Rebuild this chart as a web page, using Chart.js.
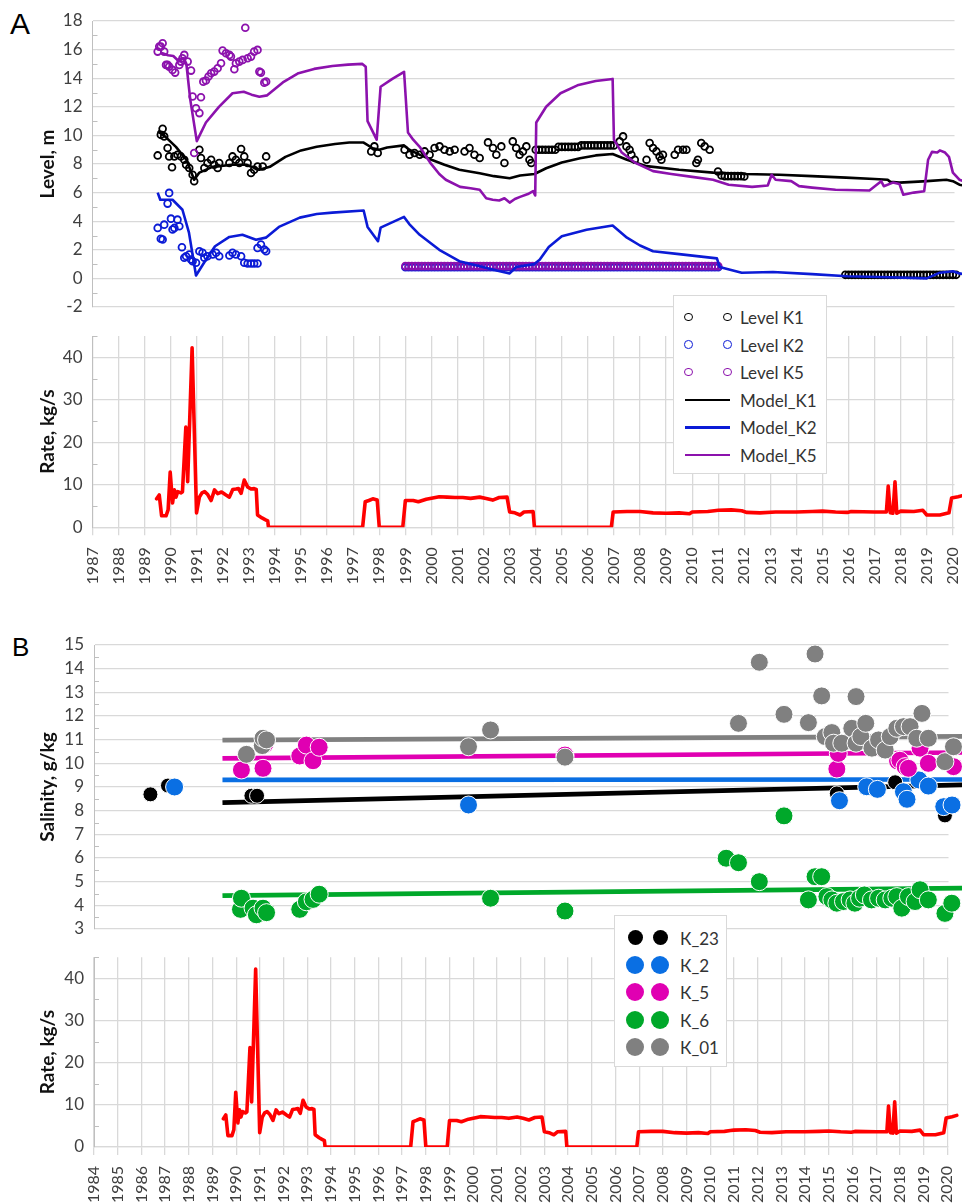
<!DOCTYPE html>
<html>
<head>
<meta charset="utf-8">
<title>Levels, rates and salinity</title>
<script src="https://cdn.jsdelivr.net/npm/chart.js@4.4.0/dist/chart.umd.min.js"></script>
<style>
  html, body { margin: 0; padding: 0; background: #fff; width: 962px; height: 1203px; overflow: hidden; }
  canvas { position: absolute; left: 0; }
  .letter { position: absolute; font-family: "Liberation Sans", Arial, sans-serif; color: #000; line-height: 1; }
  .legend { position: absolute; background: #fff; border: 1px solid #d9d9d9; box-sizing: border-box; z-index: 10; }
  .legend span { position: absolute; transform: translateY(-50%); font-family: Lato, "Noto Sans", sans-serif; font-size: 17px; line-height: 1; color: #333; white-space: nowrap; }
  .legend i { position: absolute; display: block; box-sizing: border-box; border-radius: 50%; }
  .legend b { position: absolute; display: block; }
</style>
</head>
<body>
<div class="letter" style="left:10px;top:9px;font-size:30px;">A</div>
<div class="letter" style="left:12px;top:634px;font-size:26px;">B</div>
<canvas id="levelA" width="962" height="320" style="top:0;z-index:2"></canvas>
<canvas id="rateA" width="962" height="280" style="top:320px;z-index:1"></canvas>
<canvas id="salB" width="962" height="310" style="top:630px;z-index:2"></canvas>
<canvas id="rateB" width="962" height="263" style="top:940px;z-index:1"></canvas>
<div id="legendA" class="legend" style="left:673px;top:295px;width:154px;height:179px;"></div>
<div id="legendB" class="legend" style="left:614px;top:915px;width:113px;height:152px;"></div>

<script>
// ---------- axis labels ----------
const yearLabelsA = ['1987','1988','1989','1990','1991','1992','1993','1994','1995','1996','1997','1998','1999','2000','2001','2002','2003','2004','2005','2006','2007','2008','2009','2010','2011','2012','2013','2014','2015','2016','2017','2018','2019','2020'];
const yearLabelsB = ['1984','1985','1986','1987','1988','1989','1990','1991','1992','1993','1994','1995','1996','1997','1998','1999','2000','2001','2002','2003','2004','2005','2006','2007','2008','2009','2010','2011','2012','2013','2014','2015','2016','2017','2018','2019','2020'];

// ---------- panel A: observed levels [year, m] ----------
const levelK1 = [
  [1989.5,8.6],[1989.69,10.46],[1989.62,10.04],[1989.75,9.93],[1989.88,9.12],[1990.05,7.77],[1989.94,8.53],[1990.14,8.53],[1990.26,8.65],[1990.39,8.53],
  [1990.52,8.3],[1990.59,7.95],[1990.71,7.72],[1990.84,7.25],[1990.9,6.79],[1991.1,9.0],[1991.16,8.42],[1991.29,7.72],[1991.41,8.07],[1991.55,8.3],
  [1991.67,7.95],[1991.8,7.72],[1991.86,8.07],[1992.25,8.07],[1992.37,8.53],[1992.5,8.3],[1992.63,8.07],[1992.7,9.05],[1992.82,8.53],[1992.95,8.07],
  [1993.08,7.37],[1993.2,7.6],[1993.33,7.83],[1993.53,7.83],[1993.66,8.53],
  [1997.69,8.88],[1997.81,9.23],[1997.94,8.77],
  [1998.97,9.0],[1999.16,8.65],[1999.35,8.77],[1999.55,8.65],[1999.74,8.88],[1999.93,8.65],[2000.12,9.12],[2000.31,9.23],[2000.5,9.0],[2000.7,8.88],
  [2000.89,9.0],[2001.27,8.88],[2001.46,9.12],[2001.65,8.65],[2001.85,8.42],
  [2002.17,9.51],[2002.36,9.12],[2002.49,8.65],[2002.68,9.23],[2002.8,8.07],[2003.12,9.58],[2003.25,9.12],[2003.38,8.65],[2003.51,8.88],[2003.64,9.23],
  [2003.76,8.3],[2003.83,8.07],
  [2004.0,9.0],[2004.125,9.0],[2004.25,9.0],[2004.375,9.0],[2004.5,9.0],[2004.625,9.0],[2004.75,9.0],
  [2004.875,9.2],[2005.0,9.2],[2005.125,9.2],[2005.25,9.2],[2005.375,9.2],[2005.5,9.2],[2005.625,9.2],
  [2005.75,9.3],[2005.875,9.3],[2006.0,9.3],[2006.125,9.3],[2006.25,9.3],[2006.375,9.3],[2006.5,9.3],[2006.625,9.3],[2006.75,9.3],[2006.875,9.3],[2007.0,9.3],
  [2007.22,9.58],[2007.35,9.93],[2007.48,9.23],[2007.6,9.0],[2007.67,8.65],[2007.8,8.3],[2008.25,8.3],[2008.37,9.47],[2008.5,9.12],[2008.63,8.88],
  [2008.75,8.53],[2008.82,8.3],[2008.88,8.65],[2009.33,8.65],[2009.46,9.0],[2009.65,9.0],[2009.78,9.0],[2010.16,8.07],[2010.22,8.3],[2010.35,9.47],
  [2010.48,9.23],[2010.67,9.0],
  [2010.99,7.48],[2011.125,7.2],[2011.25,7.15],[2011.375,7.15],[2011.5,7.15],[2011.625,7.15],[2011.75,7.15],[2011.875,7.15],[2012.0,7.13],
  [2015.875,0.25],[2016.0,0.25],[2016.125,0.25],[2016.25,0.25],[2016.375,0.25],[2016.5,0.25],[2016.625,0.25],[2016.75,0.25],[2016.875,0.25],
  [2017.0,0.25],[2017.125,0.25],[2017.25,0.25],[2017.375,0.25],[2017.5,0.25],[2017.625,0.25],[2017.75,0.25],[2017.875,0.25],
  [2018.0,0.25],[2018.125,0.25],[2018.25,0.25],[2018.375,0.25],[2018.5,0.25],[2018.625,0.25],[2018.75,0.25],[2018.875,0.25],
  [2019.0,0.25],[2019.125,0.25],[2019.25,0.25],[2019.375,0.25],[2019.5,0.25],[2019.625,0.25],[2019.75,0.25],[2019.875,0.25],
  [2020.0,0.25],[2020.125,0.25]
];
const levelK2 = [
  [1989.5,3.53],[1989.62,2.77],[1989.69,2.72],[1989.75,3.76],[1989.94,5.98],[1989.88,5.23],[1990.01,4.18],[1990.07,3.42],[1990.14,3.53],[1990.26,4.11],
  [1990.33,3.65],[1990.43,2.18],[1990.52,1.44],[1990.59,1.55],[1990.71,1.67],[1990.78,1.32],[1990.84,1.2],[1990.97,1.09],[1991.1,1.9],[1991.22,1.79],
  [1991.29,1.44],[1991.41,1.55],[1991.61,1.67],[1991.74,1.79],[1991.86,1.55],[1992.25,1.6],[1992.37,1.79],[1992.5,1.67],[1992.7,1.55],[1992.82,1.09],
  [1992.95,1.04],[1993.08,1.04],[1993.2,1.04],[1993.33,1.04],[1993.33,2.13],[1993.46,2.37],[1993.59,2.02],[1993.66,1.9],
  [1999.0,0.78],[1999.125,0.78],[1999.25,0.78],[1999.375,0.78],[1999.5,0.78],[1999.625,0.78],[1999.75,0.78],[1999.875,0.78],
  [2000.0,0.78],[2000.125,0.78],[2000.25,0.78],[2000.375,0.78],[2000.5,0.78],[2000.625,0.78],[2000.75,0.78],[2000.875,0.78],
  [2001.0,0.78],[2001.125,0.78],[2001.25,0.78],[2001.375,0.78],[2001.5,0.78],[2001.625,0.78],[2001.75,0.78],[2001.875,0.78],
  [2002.0,0.78],[2002.125,0.78],[2002.25,0.78],[2002.375,0.78],[2002.5,0.78],[2002.625,0.78],[2002.75,0.78],[2002.875,0.78],
  [2003.0,0.78],[2003.125,0.78],[2003.25,0.78],[2003.375,0.78],[2003.5,0.78],[2003.625,0.78],[2003.75,0.78],[2003.875,0.78],
  [2004.0,0.78],[2004.125,0.78],[2004.25,0.78],[2004.375,0.78],[2004.5,0.78],[2004.625,0.78],[2004.75,0.78],[2004.875,0.78],
  [2005.0,0.78],[2005.125,0.78],[2005.25,0.78],[2005.375,0.78],[2005.5,0.78],[2005.625,0.78],[2005.75,0.78],[2005.875,0.78],
  [2006.0,0.78],[2006.125,0.78],[2006.25,0.78],[2006.375,0.78],[2006.5,0.78],[2006.625,0.78],[2006.75,0.78],[2006.875,0.78],
  [2007.0,0.78],[2007.125,0.78],[2007.25,0.78],[2007.375,0.78],[2007.5,0.78],[2007.625,0.78],[2007.75,0.78],[2007.875,0.78],
  [2008.0,0.78],[2008.125,0.78],[2008.25,0.78],[2008.375,0.78],[2008.5,0.78],[2008.625,0.78],[2008.75,0.78],[2008.875,0.78],
  [2009.0,0.78],[2009.125,0.78],[2009.25,0.78],[2009.375,0.78],[2009.5,0.78],[2009.625,0.78],[2009.75,0.78],[2009.875,0.78],
  [2010.0,0.78],[2010.125,0.78],[2010.25,0.78],[2010.375,0.78],[2010.5,0.78],[2010.625,0.78],[2010.75,0.78],[2010.875,0.78],
  [2011.0,0.78]
];
const levelK5 = [
  [1989.5,15.86],[1989.56,16.21],[1989.69,16.44],[1989.62,16.21],[1989.75,15.86],[1989.82,14.93],[1989.88,14.93],[1989.94,14.81],[1990.07,14.58],[1990.17,14.39],
  [1990.33,14.93],[1990.39,15.16],[1990.45,15.4],[1990.52,15.63],[1990.65,15.16],[1990.78,14.53],[1990.84,12.72],[1990.9,8.77],[1990.97,11.9],[1991.1,11.56],
  [1991.16,12.67],[1991.25,13.76],[1991.35,13.84],[1991.45,14.12],[1991.55,14.35],[1991.67,14.46],[1991.8,14.7],[1991.93,15.05],[1991.99,15.93],[1992.12,15.74],
  [1992.25,15.63],[1992.31,15.51],[1992.44,14.63],[1992.5,15.05],[1992.63,15.16],[1992.76,15.28],[1992.86,17.53],[1992.95,15.4],[1993.08,15.51],[1993.2,15.86],
  [1993.33,15.98],[1993.4,14.46],[1993.46,14.39],[1993.59,13.69],[1993.66,13.76],
  [1999.0,0.86],[1999.125,0.86],[1999.25,0.86],[1999.375,0.86],[1999.5,0.86],[1999.625,0.86],[1999.75,0.86],[1999.875,0.86],
  [2000.0,0.86],[2000.125,0.86],[2000.25,0.86],[2000.375,0.86],[2000.5,0.86],[2000.625,0.86],[2000.75,0.86],[2000.875,0.86],
  [2001.0,0.86],[2001.125,0.86],[2001.25,0.86],[2001.375,0.86],[2001.5,0.86],[2001.625,0.86],[2001.75,0.86],[2001.875,0.86],
  [2002.0,0.86],[2002.125,0.86],[2002.25,0.86],[2002.375,0.86],[2002.5,0.86],[2002.625,0.86],[2002.75,0.86],[2002.875,0.86],
  [2003.0,0.86],[2003.125,0.86],[2003.25,0.86],[2003.375,0.86],[2003.5,0.86],[2003.625,0.86],[2003.75,0.86],[2003.875,0.86],
  [2004.0,0.86],[2004.125,0.86],[2004.25,0.86],[2004.375,0.86],[2004.5,0.86],[2004.625,0.86],[2004.75,0.86],[2004.875,0.86],
  [2005.0,0.86],[2005.125,0.86],[2005.25,0.86],[2005.375,0.86],[2005.5,0.86],[2005.625,0.86],[2005.75,0.86],[2005.875,0.86],
  [2006.0,0.86],[2006.125,0.86],[2006.25,0.86],[2006.375,0.86],[2006.5,0.86],[2006.625,0.86],[2006.75,0.86],[2006.875,0.86],
  [2007.0,0.86],[2007.125,0.86],[2007.25,0.86],[2007.375,0.86],[2007.5,0.86],[2007.625,0.86],[2007.75,0.86],[2007.875,0.86],
  [2008.0,0.86],[2008.125,0.86],[2008.25,0.86],[2008.375,0.86],[2008.5,0.86],[2008.625,0.86],[2008.75,0.86],[2008.875,0.86],
  [2009.0,0.86],[2009.125,0.86],[2009.25,0.86],[2009.375,0.86],[2009.5,0.86],[2009.625,0.86],[2009.75,0.86],[2009.875,0.86],
  [2010.0,0.86],[2010.125,0.86],[2010.25,0.86],[2010.375,0.86],[2010.5,0.86],[2010.625,0.86],[2010.75,0.86],[2010.875,0.86],
  [2011.0,0.86]
];

// ---------- panel A: modelled levels [year, m] ----------
const modelK1 = [
  [1989.5,10.3],[1989.8,9.9],[1990.2,9.2],[1990.6,8.3],[1990.9,6.9],[1991.1,7.4],[1991.6,7.8],[1992.37,7.95],[1992.9,7.95],[1993.4,7.6],
  [1993.8,7.8],[1994.4,8.5],[1995.0,8.95],[1995.6,9.2],[1996.3,9.4],[1996.85,9.5],[1997.4,9.5],[1997.75,9.1],[1998.0,9.0],[1998.3,9.15],
  [1998.95,9.3],[1999.15,9.0],[1999.6,8.6],[2000.0,8.3],[2000.5,7.95],[2001.07,7.6],[2001.85,7.35],[2002.4,7.15],[2003.0,7.0],[2003.4,7.2],
  [2003.95,7.3],[2004.4,7.7],[2005.0,8.1],[2005.7,8.4],[2006.3,8.6],[2006.95,8.7],[2007.5,8.3],[2008.25,7.85],[2009.5,7.6],[2010.8,7.4],
  [2012.0,7.3],[2013.35,7.25],[2014.6,7.15],[2015.9,7.05],[2017.0,6.95],[2017.5,6.9],[2017.6,6.75],[2017.95,6.7],[2018.5,6.75],[2019.0,6.8],
  [2019.75,6.9],[2020.0,6.8],[2020.25,6.55],[2020.4,6.5]
];
const modelK2 = [
  [1989.5,6.0],[1989.6,5.5],[1990.07,5.5],[1990.45,4.8],[1990.7,3.2],[1990.97,0.2],[1991.35,1.3],[1991.7,2.25],[1992.25,2.9],[1992.75,3.05],
  [1993.27,2.7],[1993.65,2.85],[1994.15,3.6],[1994.95,4.25],[1995.6,4.5],[1996.2,4.6],[1997.4,4.75],[1997.55,3.6],[1997.95,2.6],[1998.05,3.55],
  [1998.95,4.3],[1999.15,3.8],[1999.55,3.05],[2000.3,2.0],[2001.07,1.2],[2001.85,0.85],[2002.5,0.55],[2003.0,0.35],[2003.25,0.8],[2003.95,1.0],
  [2004.15,1.3],[2004.5,2.2],[2005.0,2.95],[2005.95,3.4],[2006.95,3.7],[2007.5,2.85],[2008.0,2.3],[2008.5,1.9],[2009.5,1.7],[2010.95,1.4],
  [2011.05,0.8],[2011.9,0.4],[2013.1,0.45],[2014.6,0.3],[2015.95,0.15],[2017.2,0.1],[2019.0,0.0],[2019.5,0.4],[2020.0,0.5],[2020.25,0.35],
  [2020.4,0.3]
];
const modelK5 = [
  [1989.6,15.8],[1989.9,15.6],[1990.1,15.55],[1990.3,15.2],[1990.5,15.4],[1990.6,15.0],[1990.75,12.5],[1991.0,9.6],[1991.35,10.9],[1991.85,12.0],
  [1992.37,12.95],[1992.8,13.05],[1993.1,12.85],[1993.4,12.7],[1993.7,12.8],[1994.3,13.7],[1994.9,14.35],[1995.5,14.65],[1996.2,14.85],[1996.8,14.95],
  [1997.35,15.0],[1997.48,14.8],[1997.55,11.0],[1997.9,9.7],[1998.05,13.4],[1998.5,13.95],[1998.95,14.45],[1999.1,10.2],[1999.3,9.7],[1999.55,9.2],
  [1999.95,8.1],[2000.3,7.3],[2000.55,6.9],[2001.1,6.4],[2001.5,6.3],[2001.85,6.2],[2002.1,5.6],[2002.35,5.5],[2002.6,5.45],[2002.8,5.6],
  [2003.0,5.3],[2003.2,5.55],[2003.4,5.7],[2003.7,5.9],[2003.9,6.1],[2003.98,5.8],[2004.02,10.9],[2004.4,12.0],[2004.95,12.95],[2005.6,13.5],
  [2006.3,13.8],[2006.95,13.95],[2007.0,9.7],[2007.3,8.8],[2007.8,8.1],[2008.5,7.5],[2009.2,7.3],[2010.0,7.1],[2010.8,6.9],[2011.4,6.55],
  [2012.3,6.4],[2012.9,6.5],[2013.05,7.25],[2013.2,6.9],[2013.8,6.8],[2014.1,6.45],[2014.6,6.35],[2015.5,6.2],[2016.8,6.15],[2017.25,6.8],
  [2017.35,6.45],[2017.7,6.7],[2017.95,6.6],[2018.1,5.85],[2018.5,6.0],[2018.9,6.1],[2019.05,8.3],[2019.2,8.85],[2019.4,8.8],[2019.5,8.95],
  [2019.7,8.8],[2019.85,8.5],[2020.0,7.4],[2020.25,6.9],[2020.4,6.8]
];

// ---------- production rate [year, kg/s] (both panels) ----------
const rate = [
  [1989.46,6.7],[1989.56,7.6],[1989.65,2.7],[1989.82,2.7],[1989.9,4.1],[1989.98,13.0],[1990.07,5.7],[1990.14,8.8],[1990.2,7.1],[1990.27,8.4],
  [1990.39,8.1],[1990.45,8.3],[1990.58,23.6],[1990.65,10.7],[1990.82,42.2],[1990.99,3.4],[1991.1,7.1],[1991.2,8.1],[1991.3,8.4],[1991.42,7.7],
  [1991.55,6.3],[1991.68,8.8],[1991.8,7.9],[1991.95,8.3],[1992.12,7.6],[1992.25,7.1],[1992.38,8.9],[1992.5,9.0],[1992.6,9.1],[1992.7,8.0],
  [1992.82,11.1],[1992.95,9.5],[1993.08,9.0],[1993.2,9.1],[1993.28,8.9],[1993.33,2.9],[1993.5,2.2],[1993.62,1.8],[1993.72,1.5],[1993.75,0],
  [1997.36,0],[1997.46,6.0],[1997.6,6.3],[1997.75,6.7],[1997.92,6.4],[1998.0,0],[1998.9,0],[1999.0,6.3],[1999.3,6.3],[1999.5,6.0],
  [1999.8,6.6],[2000.3,7.2],[2000.6,7.1],[2000.9,7.0],[2001.2,7.0],[2001.5,6.8],[2001.85,7.1],[2002.1,6.8],[2002.35,6.4],[2002.6,7.0],
  [2002.9,7.1],[2003.0,3.6],[2003.2,3.4],[2003.4,2.9],[2003.55,3.6],[2003.9,3.7],[2003.95,0],[2006.9,0],[2006.97,3.6],[2007.5,3.7],
  [2008.0,3.7],[2008.5,3.4],[2009.0,3.3],[2009.5,3.4],[2009.9,3.2],[2010.0,3.6],[2010.6,3.7],[2010.85,3.9],[2011.0,4.0],[2011.5,4.1],
  [2011.9,3.9],[2012.1,3.5],[2012.6,3.4],[2013.2,3.6],[2014.0,3.6],[2014.6,3.7],[2015.0,3.8],[2015.5,3.6],[2015.95,3.5],[2016.1,3.7],
  [2017.0,3.6],[2017.45,3.6],[2017.52,9.7],[2017.6,3.4],[2017.7,3.3],[2017.78,10.7],[2017.85,3.3],[2018.0,3.8],[2018.5,3.7],[2018.85,4.0],
  [2019.0,2.9],[2019.5,2.9],[2019.85,3.4],[2019.95,6.9],[2020.2,7.2],[2020.4,7.5]
];

// ---------- panel B: salinity samples [year, g/kg] ----------
const salK23 = [[1986.38,8.69],[1987.12,9.06],[1990.64,8.63],[1990.88,8.63],[2015.34,8.73],[2017.8,9.2],[2019.9,7.8]];
const salK2 = [[1987.4,9.0],[1999.8,8.24],[2015.45,8.42],[2016.6,9.01],[2017.05,8.9],[2018.15,8.8],[2018.3,8.48],[2018.8,9.3],[2019.2,9.04],[2019.85,8.17],[2020.2,8.24]];
const salK5 = [[1990.22,9.72],[1991.13,9.79],[1991.2,10.8],[1992.68,10.31],[1992.96,10.77],[1993.24,10.11],[1993.5,10.68],[2003.87,10.35],[2015.34,9.76],[2015.4,10.42],
  [2017.9,10.1],[2018.0,10.13],[2018.22,9.86],[2018.36,9.79],[2018.85,10.64],[2019.2,10.0],[2020.26,9.86]];
const salK6 = [[1990.18,3.83],[1990.22,4.3],[1990.71,3.88],[1990.85,3.6],[1991.13,3.88],[1991.28,3.69],[1992.68,3.83],[1992.96,4.15],[1993.24,4.25],[1993.5,4.47],
  [2000.73,4.3],[2003.87,3.76],[2010.67,5.99],[2011.19,5.8],[2012.07,5.0],[2013.11,7.78],[2014.14,4.23],[2014.42,5.21],[2014.7,5.21],[2014.92,4.37],
  [2015.13,4.23],[2015.34,4.09],[2015.62,4.16],[2015.9,4.23],[2016.1,4.09],[2016.3,4.3],[2016.5,4.44],[2016.8,4.23],[2017.1,4.3],[2017.38,4.23],
  [2017.66,4.3],[2017.87,4.37],[2018.08,3.88],[2018.36,4.37],[2018.64,4.16],[2018.85,4.66],[2019.2,4.23],[2019.9,3.66],[2020.19,4.09]];
const salK01 = [[1990.43,10.38],[1991.1,10.75],[1991.13,11.06],[1991.28,10.99],[1999.8,10.7],[2000.73,11.41],[2003.87,10.26],[2011.19,11.69],[2012.07,14.27],[2013.11,12.07],
  [2014.14,11.72],[2014.42,14.62],[2014.7,12.85],[2014.85,11.13],[2015.13,11.3],[2015.2,10.85],[2015.55,10.85],[2015.97,11.48],[2016.15,12.82],[2016.15,10.85],
  [2016.35,11.13],[2016.56,11.69],[2016.82,10.64],[2017.1,10.99],[2017.38,10.56],[2017.59,11.13],[2017.87,11.48],[2018.15,11.55],[2018.43,11.55],[2018.71,11.06],
  [2018.93,12.11],[2019.2,11.06],[2019.9,10.07],[2020.26,10.7]];

// ---------- panel B: linear trends [year, g/kg] ----------
const trendK23 = [[1989.42,8.34],[2020.7,9.09]];
const trendK2  = [[1989.42,9.3],[2020.7,9.32]];
const trendK5  = [[1989.42,10.21],[2020.7,10.46]];
const trendK6  = [[1989.42,4.41],[2020.7,4.73]];
const trendK01 = [[1989.42,10.98],[2020.7,11.14]];

// ---------- styling ----------
const FONT = 'Lato, "Noto Sans", sans-serif';
const GRID = '#d9d9d9';
const AXIS = '#bfbfbf';
const TICK_COLOR = '#404040';
const C = { k1: '#000000', k2: '#0b1bd6', k5: '#8c12ad', red: '#ff0000',
            s23: '#000000', s2: '#0a6fe3', s5: '#e000b2', s6: '#00a82a', s01: '#808080' };

const pts = arr => arr.map(p => ({ x: p[0], y: p[1] }));
const yearTicksA = yearLabelsA.map(Number);
const yearTicksB = yearLabelsB.map(Number);

// short inner tick marks on the value axis between the labelled ticks
const minorTicks = {
  id: 'minorTicks',
  afterDraw(chart, args, opts) {
    if (!opts || !opts.step) return;
    const y = chart.scales.y, ctx = chart.ctx, left = chart.chartArea.left;
    ctx.save();
    ctx.strokeStyle = AXIS;
    ctx.lineWidth = 1;
    for (let v = y.min + opts.offset; v <= y.max + 1e-9; v += opts.step) {
      const py = Math.round(y.getPixelForValue(v)) + 0.5;
      ctx.beginPath(); ctx.moveTo(left, py); ctx.lineTo(left + 5, py); ctx.stroke();
    }
    ctx.restore();
  }
};

// the grid stops at the last labelled year; the series run on to the edge
const gridStop = {
  id: 'gridStop',
  beforeDatasetsDraw(chart, args, opts) {
    if (!opts || opts.at === undefined) return;
    const x = chart.scales.x, a = chart.chartArea, ctx = chart.ctx;
    const px = Math.round(x.getPixelForValue(opts.at)) + 1.5;
    ctx.save();
    ctx.fillStyle = '#ffffff';
    ctx.fillRect(px, a.top - 2, a.right - px + 2, a.bottom - a.top + 4);
    ctx.restore();
  }
};

function valueAxis(min, max, step, title, plotLeft) {
  return {
    min, max,
    ticks: { stepSize: step, includeBounds: false, padding: 10, color: TICK_COLOR, font: { family: FONT, size: 17 } },
    grid: { color: GRID, lineWidth: 1.3, drawTicks: false },
    border: { display: true, color: AXIS, width: 1 },
    title: { display: true, text: title, color: '#111', padding: 0, font: { family: FONT, size: 19, weight: 'bold' } },
    afterFit: s => { s.width = plotLeft - 36; s.paddingTop = 0; s.paddingBottom = 0; }
  };
}

function yearAxis(min, max, ticks, labels, pad, height) {
  return {
    type: 'linear', min, max,
    afterBuildTicks: s => { s.ticks = ticks.map(v => ({ value: v })); },
    ticks: { autoSkip: false, minRotation: 90, maxRotation: 90, padding: pad, color: TICK_COLOR,
             font: { family: FONT, size: 16 }, callback: v => labels[ticks.indexOf(v)] },
    grid: { color: GRID, lineWidth: 1.3, drawTicks: true, tickLength: 8 },
    border: { display: true, color: GRID, width: 1.3 },
    afterFit: s => { s.height = height; s.paddingLeft = 0; s.paddingRight = 0; }
  };
}

const base = {
  responsive: false, animation: false, devicePixelRatio: 1,
  plugins: { legend: { display: false }, tooltip: { enabled: false } }
};

// ---------- panel A: levels ----------
const levelSets = [
  { label: 'Level K1', kind: 'mark', data: pts(levelK1), order: 5, showLine: false, pointRadius: 3.4, pointBorderWidth: 1.8,
    pointBorderColor: C.k1, pointBackgroundColor: 'rgba(0,0,0,0)', borderColor: C.k1 },
  { label: 'Level K2', kind: 'mark', data: pts(levelK2), order: 4, showLine: false, pointRadius: 3.4, pointBorderWidth: 1.8,
    pointBorderColor: C.k2, pointBackgroundColor: 'rgba(0,0,0,0)', borderColor: C.k2 },
  { label: 'Level K5', kind: 'mark', data: pts(levelK5), order: 3, showLine: false, pointRadius: 3.4, pointBorderWidth: 1.8,
    pointBorderColor: C.k5, pointBackgroundColor: 'rgba(0,0,0,0)', borderColor: C.k5 },
  { label: 'Model_K1', kind: 'line', data: pts(modelK1), order: 2, showLine: true, pointRadius: 0, borderColor: C.k1, borderWidth: 2.6, borderJoinStyle: 'round' },
  { label: 'Model_K2', kind: 'line', data: pts(modelK2), order: 1, showLine: true, pointRadius: 0, borderColor: C.k2, borderWidth: 2.6, borderJoinStyle: 'round' },
  { label: 'Model_K5', kind: 'line', data: pts(modelK5), order: 0, showLine: true, pointRadius: 0, borderColor: C.k5, borderWidth: 2.6, borderJoinStyle: 'round' }
];

new Chart(document.getElementById('levelA'), {
  type: 'scatter',
  data: { datasets: levelSets },
  options: Object.assign({}, base, {
    layout: { autoPadding: false, padding: { left: 36, top: 21, right: 0, bottom: 13 } },
    plugins: Object.assign({}, base.plugins, { minorTicks: { offset: 1, step: 2 }, gridStop: { at: yearTicksA[yearTicksA.length - 1] } }),
    scales: {
      x: { type: 'linear', min: 1987, max: 2020.35, display: false },
      y: valueAxis(-2, 18, 2, 'Level, m', 92.5)
    }
  }),
  plugins: [minorTicks, gridStop]
});

// ---------- rate charts ----------
function rateChart(id, xAxis, lastYear, top, bottomPad, plotLeft) {
  return new Chart(document.getElementById(id), {
    type: 'scatter',
    data: { datasets: [{ label: 'Rate', data: pts(rate), showLine: true, pointRadius: 0, borderColor: C.red,
                         borderWidth: 3.6, borderJoinStyle: 'round', borderCapStyle: 'round' }] },
    options: Object.assign({}, base, {
      layout: { autoPadding: false, padding: { left: 36, top: top, right: 0, bottom: bottomPad } },
      plugins: Object.assign({}, base.plugins, { minorTicks: { offset: 5, step: 10 }, gridStop: { at: lastYear } }),
      scales: { x: xAxis, y: valueAxis(0, 45, 10, 'Rate, kg/s', plotLeft) }
    }),
    plugins: [minorTicks, gridStop]
  });
}
rateChart('rateA', yearAxis(1987, 2020.35, yearTicksA, yearLabelsA, 12, 60), yearTicksA[yearTicksA.length - 1], 16, 12.7, 92.5);

// ---------- panel B: salinity ----------
const mark = (label, data, color, r, order) => ({
  label, kind: 'mark', data: pts(data), order, showLine: false, pointRadius: r, pointBorderWidth: 1,
  pointBorderColor: '#ffffff', pointBackgroundColor: color, borderColor: color
});
const trend = (data, color, order) => ({
  label: '', kind: 'trend', data: pts(data), order, showLine: true, pointRadius: 0, borderColor: color, borderWidth: 4.6
});
const salSets = [
  mark('К_23', salK23, C.s23, 7.5, 4),
  mark('К_2', salK2, C.s2, 9, 3),
  mark('К_5', salK5, C.s5, 9, 2),
  mark('К_6', salK6, C.s6, 9, 1),
  mark('К_01', salK01, C.s01, 9, 0),
  trend(trendK23, C.s23, 5),
  trend(trendK2, C.s2, 6),
  trend(trendK5, C.s5, 7),
  trend(trendK6, C.s6, 8),
  trend(trendK01, C.s01, 9)
];

new Chart(document.getElementById('salB'), {
  type: 'scatter',
  data: { datasets: salSets },
  options: Object.assign({}, base, {
    layout: { autoPadding: false, padding: { left: 36, top: 15, right: 0, bottom: 11 } },
    plugins: Object.assign({}, base.plugins, { minorTicks: { offset: 0.5, step: 1 }, gridStop: { at: yearTicksB[yearTicksB.length - 1] } }),
    scales: {
      x: { type: 'linear', min: 1984, max: 2020.62, display: false },
      y: valueAxis(3, 15, 1, 'Salinity, g/kg', 94)
    }
  }),
  plugins: [minorTicks, gridStop]
});

rateChart('rateB', yearAxis(1984, 2020.62, yearTicksB, yearLabelsB, 11, 56), yearTicksB[yearTicksB.length - 1], 17.3, 0, 94);

// ---------- legends ----------
function buildLegend(el, sets, o) {
  sets.forEach((ds, i) => {
    const cy = o.firstRow + i * o.rowStep;
    if (ds.kind === 'line') {
      const b = document.createElement('b');
      b.style.cssText = `left:${o.lineFrom}px;top:${cy - ds.borderWidth / 2}px;width:${o.lineTo - o.lineFrom}px;height:${ds.borderWidth}px;background:${ds.borderColor};`;
      el.appendChild(b);
    } else {
      o.markX.forEach(mx => {
        const r = ds.pointRadius + (o.hollow ? ds.pointBorderWidth / 2 : 0);
        const c = document.createElement('i');
        c.style.cssText = `left:${mx - r}px;top:${cy - r}px;width:${2 * r}px;height:${2 * r}px;` +
          (o.hollow ? `border:${ds.pointBorderWidth}px solid ${ds.pointBorderColor};`
                    : `background:${ds.pointBackgroundColor};`);
        el.appendChild(c);
      });
    }
    const s = document.createElement('span');
    s.textContent = ds.label;
    s.style.left = o.textX + 'px';
    s.style.top = cy + 'px';
    el.appendChild(s);
  });
}
buildLegend(document.getElementById('legendA'), levelSets,
  { firstRow: 21, rowStep: 27.6, markX: [14.7, 53.3], lineFrom: 11, lineTo: 56, textX: 66, hollow: true });
buildLegend(document.getElementById('legendB'), salSets.filter(d => d.kind === 'mark'),
  { firstRow: 21.7, rowStep: 27.3, markX: [20.3, 45], textX: 65, hollow: false });
</script>
</body>
</html>
